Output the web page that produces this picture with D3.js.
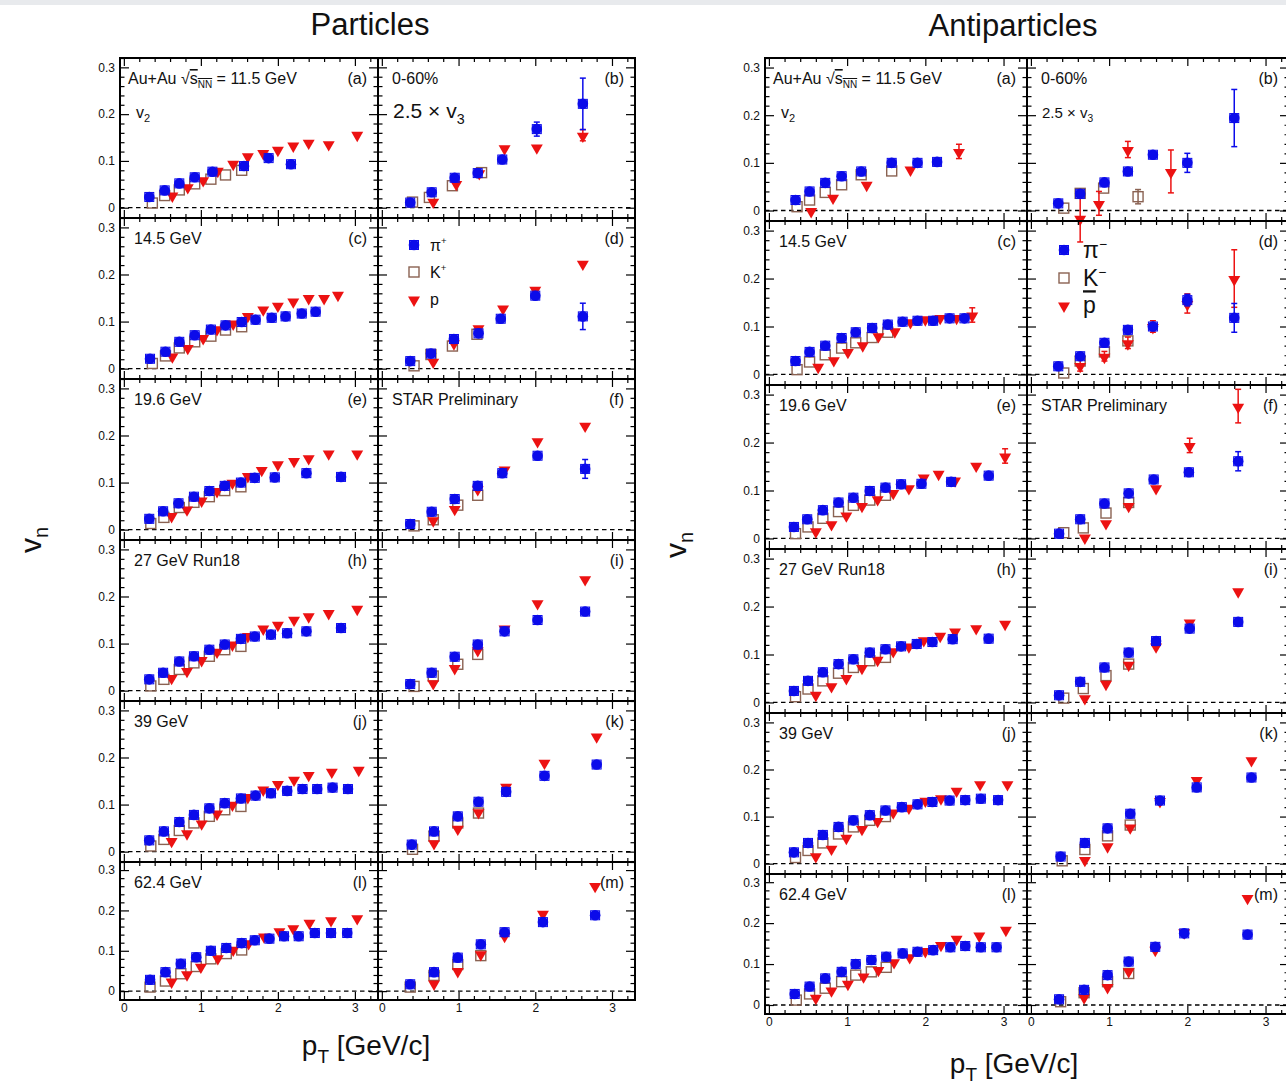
<!DOCTYPE html>
<html><head><meta charset="utf-8">
<script src="https://cdn.jsdelivr.net/npm/d3@7"></script>
<style>body{margin:0;background:#fff;overflow:hidden} text{font-family:"Liberation Sans",Arial,Helvetica,sans-serif;fill:#111}</style>
</head><body><svg id="c" width="1286" height="1085"></svg>
<script>
// ---------- tick labels / categories ----------
const yMajor = [0, 0.1, 0.2, 0.3];
const yTickLabels = ["0", "0.1", "0.2", "0.3"];
const xMajor = [0, 1, 2, 3];
const xTickLabels = ["0", "1", "2", "3"];
const energyLabels = ["11.5 GeV", "14.5 GeV", "19.6 GeV", "27 GeV Run18", "39 GeV", "62.4 GeV"];
const panelLetters = [["(a)", "(b)"], ["(c)", "(d)"], ["(e)", "(f)"], ["(h)", "(i)"], ["(j)", "(k)"], ["(l)", "(m)"]];
const figTitles = ["Particles", "Antiparticles"];

// ---------- data: [pT, value, (stat. error)] ----------
// Particles, v2
const P115_v2_pi = [[0.33,0.023],[0.53,0.037],[0.72,0.052],[0.92,0.065],[1.15,0.077],[1.56,0.089],[1.88,0.106],[2.17,0.093]];
const P115_v2_K  = [[0.37,0.010],[0.53,0.026],[0.72,0.038],[0.92,0.051],[1.13,0.061],[1.32,0.070],[1.53,0.080]];
const P115_v2_p  = [[0.63,0.027],[0.83,0.045],[1.03,0.060],[1.22,0.080],[1.42,0.095],[1.61,0.111],[1.81,0.118],[2.0,0.125],[2.2,0.134],[2.4,0.140],[2.66,0.137],[3.03,0.157]];
const P145_v2_pi = [[0.34,0.021],[0.54,0.036],[0.72,0.057],[0.92,0.071],[1.13,0.083],[1.32,0.092],[1.53,0.099],[1.71,0.104],[1.92,0.108],[2.1,0.111],[2.31,0.117],[2.49,0.121]];
const P145_v2_K  = [[0.37,0.011],[0.54,0.027],[0.72,0.044],[0.92,0.057],[1.13,0.069],[1.32,0.082],[1.53,0.089]];
const P145_v2_p  = [[0.63,0.027],[0.83,0.045],[1.03,0.066],[1.21,0.085],[1.42,0.097],[1.61,0.113],[1.81,0.127],[2.0,0.135],[2.2,0.144],[2.4,0.151],[2.6,0.151],[2.78,0.158]];
const P196_v2_pi = [[0.33,0.023],[0.51,0.039],[0.71,0.056],[0.91,0.070],[1.11,0.082],[1.31,0.093],[1.52,0.100],[1.70,0.110],[1.96,0.111],[2.37,0.120],[2.82,0.112]];
const P196_v2_K  = [[0.35,0.013],[0.52,0.026],[0.72,0.047],[0.91,0.058],[1.11,0.070],[1.31,0.083],[1.52,0.091]];
const P196_v2_p  = [[0.62,0.030],[0.82,0.044],[1.01,0.063],[1.21,0.083],[1.41,0.101],[1.61,0.115],[1.79,0.128],[2.0,0.140],[2.21,0.147],[2.4,0.153],[2.66,0.163],[3.03,0.163]];
const P27_v2_pi  = [[0.33,0.024],[0.51,0.038],[0.72,0.062],[0.91,0.073],[1.11,0.087],[1.31,0.098],[1.52,0.110],[1.70,0.115],[1.91,0.119],[2.12,0.122],[2.37,0.126],[2.82,0.133]];
const P27_v2_K   = [[0.35,0.010],[0.52,0.024],[0.72,0.045],[0.91,0.059],[1.11,0.073],[1.31,0.087],[1.52,0.094]];
const P27_v2_p   = [[0.62,0.028],[0.82,0.043],[1.01,0.066],[1.21,0.084],[1.41,0.099],[1.61,0.117],[1.81,0.133],[2.0,0.141],[2.21,0.152],[2.4,0.159],[2.66,0.166],[3.03,0.175]];
const P39_v2_pi  = [[0.33,0.024],[0.52,0.043],[0.72,0.063],[0.91,0.078],[1.11,0.092],[1.31,0.103],[1.52,0.113],[1.71,0.119],[1.91,0.124],[2.12,0.129],[2.32,0.133],[2.51,0.133],[2.71,0.136],[2.91,0.133]];
const P39_v2_K   = [[0.35,0.012],[0.52,0.026],[0.72,0.045],[0.91,0.061],[1.11,0.075],[1.31,0.089],[1.52,0.096]];
const P39_v2_p   = [[0.62,0.024],[0.82,0.040],[1.01,0.061],[1.21,0.082],[1.41,0.101],[1.61,0.117],[1.81,0.133],[2.0,0.145],[2.21,0.154],[2.4,0.164],[2.7,0.171],[3.05,0.175]];
const P624_v2_pi = [[0.34,0.028],[0.54,0.047],[0.74,0.068],[0.94,0.084],[1.13,0.100],[1.33,0.107],[1.53,0.119],[1.7,0.126],[1.89,0.130],[2.08,0.136],[2.27,0.136],[2.48,0.144],[2.69,0.144],[2.9,0.144]];
const P624_v2_K  = [[0.34,0.010],[0.54,0.025],[0.74,0.043],[0.94,0.061],[1.13,0.080],[1.33,0.093],[1.53,0.102]];
const P624_v2_p  = [[0.62,0.025],[0.82,0.043],[1.0,0.062],[1.22,0.083],[1.42,0.104],[1.62,0.120],[1.82,0.137],[2.02,0.150],[2.2,0.157],[2.41,0.171],[2.69,0.177],[3.03,0.182]];
// Particles, 2.5 x v3
const P115_v3_pi = [[0.37,0.011],[0.65,0.033],[0.95,0.064],[1.25,0.074],[1.57,0.103],[2.02,0.168,0.015],[2.62,0.222,0.055]];
const P115_v3_K  = [[0.40,0.012],[0.62,0.022],[0.92,0.047],[1.30,0.075]];
const P115_v3_p  = [[0.67,0.014],[0.97,0.052],[1.27,0.075],[1.6,0.128],[2.02,0.130],[2.62,0.155,0.012]];
const P145_v3_pi = [[0.37,0.016],[0.64,0.032],[0.94,0.063],[1.26,0.075],[1.55,0.106],[2.0,0.155],[2.62,0.111,0.028]];
const P145_v3_K  = [[0.42,0.006],[0.64,0.030],[0.92,0.048],[1.24,0.073]];
const P145_v3_p  = [[0.67,0.016],[0.94,0.055],[1.26,0.087],[1.58,0.129],[2.0,0.169],[2.62,0.224]];
const P196_v3_pi = [[0.37,0.012],[0.65,0.038],[0.95,0.065],[1.25,0.093],[1.57,0.120],[2.03,0.157],[2.65,0.129,0.02]];
const P196_v3_K  = [[0.42,0.008],[0.67,0.021],[0.99,0.052],[1.25,0.073]];
const P196_v3_p  = [[0.67,0.021],[0.95,0.045],[1.25,0.087],[1.6,0.129],[2.03,0.189],[2.65,0.222]];
const P27_v3_pi  = [[0.37,0.014],[0.65,0.038],[0.95,0.072],[1.25,0.098],[1.6,0.126],[2.03,0.150],[2.65,0.168]];
const P27_v3_K   = [[0.42,0.009],[0.67,0.031],[0.99,0.056],[1.25,0.077]];
const P27_v3_p   = [[0.67,0.017],[0.95,0.049],[1.25,0.087],[1.6,0.133],[2.03,0.187],[2.65,0.238]];
const P39_v3_pi  = [[0.39,0.015],[0.68,0.043],[0.99,0.075],[1.26,0.106],[1.62,0.127],[2.12,0.161],[2.8,0.185]];
const P39_v3_K   = [[0.40,0.005],[0.68,0.033],[0.99,0.061],[1.26,0.082]];
const P39_v3_p   = [[0.68,0.019],[0.99,0.050],[1.26,0.085],[1.62,0.139],[2.12,0.190],[2.8,0.246]];
const P624_v3_pi = [[0.37,0.017],[0.68,0.047],[0.99,0.083],[1.29,0.116],[1.6,0.146],[2.1,0.171],[2.78,0.188]];
const P624_v3_K  = [[0.37,0.010],[0.68,0.039],[0.99,0.066],[1.29,0.088]];
const P624_v3_p  = [[0.68,0.020],[0.99,0.051],[1.29,0.093],[1.6,0.138],[2.1,0.193],[2.78,0.262]];
// Antiparticles, v2
const A115_v2_pi = [[0.34,0.022],[0.52,0.040],[0.72,0.058],[0.93,0.072],[1.18,0.082],[1.57,0.100],[1.9,0.100],[2.15,0.102]];
const A115_v2_K  = [[0.36,0.008],[0.52,0.022],[0.72,0.038],[0.93,0.054],[1.18,0.075],[1.57,0.083]];
const A115_v2_p  = [[0.54,0.000],[0.82,0.028],[1.25,0.055],[1.81,0.087],[2.43,0.124,0.015]];
const A145_v2_pi = [[0.34,0.028],[0.52,0.047],[0.72,0.060],[0.93,0.076],[1.11,0.088],[1.32,0.097],[1.52,0.104],[1.71,0.110],[1.9,0.112],[2.1,0.112],[2.31,0.117],[2.5,0.117]];
const A145_v2_K  = [[0.36,0.010],[0.52,0.026],[0.72,0.041],[0.93,0.055],[1.11,0.066],[1.32,0.077],[1.52,0.088]];
const A145_v2_p  = [[0.63,0.017],[0.83,0.031],[1.01,0.048],[1.2,0.062],[1.4,0.081],[1.61,0.091],[1.81,0.110],[2.0,0.116],[2.19,0.119],[2.4,0.119],[2.6,0.124,0.015]];
const A196_v2_pi = [[0.32,0.024],[0.49,0.040],[0.69,0.059],[0.89,0.075],[1.08,0.085],[1.29,0.099],[1.49,0.106],[1.69,0.113],[1.95,0.114],[2.33,0.118],[2.81,0.131]];
const A196_v2_K  = [[0.34,0.010],[0.50,0.024],[0.69,0.042],[0.89,0.056],[1.08,0.069],[1.29,0.080],[1.49,0.090]];
const A196_v2_p  = [[0.6,0.016],[0.8,0.031],[0.99,0.049],[1.19,0.069],[1.39,0.083],[1.59,0.096],[1.79,0.106],[1.98,0.128],[2.17,0.136],[2.38,0.122],[2.65,0.153],[3.02,0.172,0.015]];
const A27_v2_pi  = [[0.32,0.024],[0.5,0.045],[0.69,0.063],[0.89,0.080],[1.08,0.090],[1.29,0.104],[1.49,0.111],[1.69,0.117],[1.89,0.122],[2.09,0.126],[2.35,0.132],[2.81,0.133]];
const A27_v2_K   = [[0.34,0.012],[0.50,0.028],[0.69,0.045],[0.89,0.061],[1.08,0.073],[1.29,0.087],[1.49,0.094]];
const A27_v2_p   = [[0.6,0.017],[0.8,0.035],[0.99,0.052],[1.19,0.073],[1.39,0.090],[1.59,0.108],[1.79,0.118],[1.98,0.131],[2.19,0.140],[2.38,0.149],[2.65,0.156],[3.02,0.165]];
const A39_v2_pi  = [[0.32,0.024],[0.5,0.044],[0.69,0.061],[0.89,0.078],[1.08,0.092],[1.29,0.103],[1.49,0.113],[1.7,0.120],[1.9,0.126],[2.09,0.131],[2.31,0.134],[2.51,0.135],[2.71,0.138],[2.93,0.135]];
const A39_v2_K   = [[0.34,0.013],[0.50,0.028],[0.69,0.044],[0.89,0.063],[1.08,0.078],[1.29,0.092],[1.49,0.100]];
const A39_v2_p   = [[0.6,0.017],[0.8,0.033],[0.99,0.056],[1.19,0.075],[1.39,0.092],[1.59,0.110],[1.79,0.120],[2.0,0.135],[2.2,0.140],[2.4,0.156],[2.7,0.170],[3.05,0.170]];
const A624_v2_pi = [[0.33,0.027],[0.52,0.045],[0.72,0.065],[0.93,0.081],[1.11,0.100],[1.31,0.110],[1.5,0.118],[1.71,0.126],[1.9,0.130],[2.1,0.134],[2.32,0.141],[2.51,0.144],[2.71,0.141],[2.91,0.141]];
const A624_v2_K  = [[0.35,0.012],[0.52,0.027],[0.72,0.041],[0.93,0.057],[1.11,0.073],[1.31,0.081],[1.5,0.092]];
const A624_v2_p  = [[0.6,0.019],[0.8,0.037],[1.01,0.053],[1.21,0.071],[1.4,0.087],[1.6,0.106],[1.8,0.118],[2.0,0.133],[2.2,0.148],[2.4,0.163],[2.69,0.171],[3.03,0.185]];
// Antiparticles, 2.5 x v3
const A115_v3_pi = [[0.35,0.015],[0.63,0.035],[0.94,0.059],[1.24,0.082],[1.56,0.117],[2.0,0.100,0.02],[2.6,0.194,0.06]];
const A115_v3_K  = [[0.42,0.005],[0.63,0.036],[0.93,0.047],[1.37,0.029,0.015]];
const A115_v3_p  = [[0.63,-0.016,0.05],[0.87,0.015,0.025],[1.24,0.128,0.017],[1.79,0.082,0.045]];
const A145_v3_pi = [[0.35,0.017],[0.63,0.038],[0.94,0.066],[1.24,0.093],[1.56,0.100],[2.0,0.155,0.012],[2.6,0.118,0.03]];
const A145_v3_K  = [[0.42,0.003],[0.63,0.028],[0.94,0.047],[1.24,0.070]];
const A145_v3_p  = [[0.63,0.019,0.012],[0.94,0.038,0.01],[1.24,0.066,0.012],[1.56,0.100,0.012],[2.0,0.148,0.02],[2.6,0.200,0.06]];
const A196_v3_pi = [[0.36,0.010],[0.63,0.040],[0.94,0.073],[1.25,0.094],[1.57,0.123],[2.02,0.138],[2.65,0.161,0.02]];
const A196_v3_K  = [[0.42,0.012],[0.67,0.022],[0.96,0.053],[1.25,0.075]];
const A196_v3_p  = [[0.69,0.003],[0.96,0.033],[1.25,0.069],[1.6,0.106],[2.03,0.194,0.015],[2.65,0.276,0.035]];
const A27_v3_pi  = [[0.36,0.015],[0.63,0.043],[0.94,0.073],[1.25,0.104],[1.6,0.128],[2.03,0.154],[2.65,0.168]];
const A27_v3_K   = [[0.42,0.009],[0.67,0.029],[0.96,0.056],[1.25,0.080]];
const A27_v3_p   = [[0.69,0.010],[0.96,0.040],[1.25,0.080],[1.6,0.118],[2.03,0.168],[2.65,0.233]];
const A39_v3_pi  = [[0.38,0.015],[0.69,0.044],[0.98,0.075],[1.27,0.106],[1.65,0.134],[2.12,0.162],[2.82,0.183]];
const A39_v3_K   = [[0.40,0.006],[0.69,0.030],[0.98,0.059],[1.27,0.082]];
const A39_v3_p   = [[0.69,0.009],[0.98,0.038],[1.27,0.078],[1.65,0.134],[2.12,0.179],[2.82,0.221]];
const A624_v3_pi = [[0.36,0.014],[0.68,0.037],[0.98,0.073],[1.25,0.106],[1.59,0.142],[1.96,0.175],[2.77,0.172]];
const A624_v3_K  = [[0.38,0.008],[0.68,0.030],[0.98,0.057],[1.25,0.077]];
const A624_v3_p  = [[0.68,0.020],[0.98,0.045],[1.25,0.084],[1.59,0.136],[1.96,0.179],[2.77,0.263]];

// ---------- tables built from the arrays ----------
const particleRows = [
  [[P115_v2_pi,P115_v2_K,P115_v2_p],[P115_v3_pi,P115_v3_K,P115_v3_p]],
  [[P145_v2_pi,P145_v2_K,P145_v2_p],[P145_v3_pi,P145_v3_K,P145_v3_p]],
  [[P196_v2_pi,P196_v2_K,P196_v2_p],[P196_v3_pi,P196_v3_K,P196_v3_p]],
  [[P27_v2_pi,P27_v2_K,P27_v2_p],[P27_v3_pi,P27_v3_K,P27_v3_p]],
  [[P39_v2_pi,P39_v2_K,P39_v2_p],[P39_v3_pi,P39_v3_K,P39_v3_p]],
  [[P624_v2_pi,P624_v2_K,P624_v2_p],[P624_v3_pi,P624_v3_K,P624_v3_p]]];
const antiRows = [
  [[A115_v2_pi,A115_v2_K,A115_v2_p],[A115_v3_pi,A115_v3_K,A115_v3_p]],
  [[A145_v2_pi,A145_v2_K,A145_v2_p],[A145_v3_pi,A145_v3_K,A145_v3_p]],
  [[A196_v2_pi,A196_v2_K,A196_v2_p],[A196_v3_pi,A196_v3_K,A196_v3_p]],
  [[A27_v2_pi,A27_v2_K,A27_v2_p],[A27_v3_pi,A27_v3_K,A27_v3_p]],
  [[A39_v2_pi,A39_v2_K,A39_v2_p],[A39_v3_pi,A39_v3_K,A39_v3_p]],
  [[A624_v2_pi,A624_v2_K,A624_v2_p],[A624_v3_pi,A624_v3_K,A624_v3_p]]];

// ---------- layout / style ----------
const COL = {pi:"#0b0bea", K:"#8a6252", p:"#ec1212"};
const xDomain = [-0.05, 3.3], yDomain = [-0.022, 0.32];
const xMinor = d3.range(0, 17).map(i => i * 0.2).filter((d, i) => i % 5 !== 0);
const yMinor = d3.range(-1, 17).map(i => i * 0.02).filter((d, i) => (i - 1) % 5 !== 0);

const figs = [
  {rows: particleRows, cols: [[120,378],[378,635]], ry: [58,218,379,540,701,862,1000],
   titleX: 370, titleY: 35, vnX: 41, vnY: 540, ptX: 366, ptY: 1055, sign: "+", anti: false,
   v3Size: 21, legSize: 16, legDX: 36, legTX: 52, legY: [27,54,81]},
  {rows: antiRows, cols: [[765,1027],[1027,1289]], ry: [58,221,385,549,713,874,1014],
   titleX: 1013, titleY: 36, vnX: 686, vnY: 545, ptX: 1014, ptY: 1073, sign: "−", anti: true,
   v3Size: 15, legSize: 23, legDX: 37, legTX: 56, legY: [29,57,84]}
];

const svg = d3.select("#c");
svg.append("rect").attr("width",1286).attr("height",1085).attr("fill","#fff");
svg.append("rect").attr("width",1286).attr("height",5).attr("fill","#e8eaed");

function styleAxis(sel) {
  sel.select(".domain").remove();
  sel.selectAll(".tick line").attr("stroke","#000").attr("stroke-width",1.2);
  sel.selectAll(".tick text").attr("font-size",12).attr("fill","#222")
     .attr("font-family","'Liberation Sans',Arial,sans-serif");
}

function drawMarkers(g, x, y, pts, kind) {
  const eb = pts.filter(d => d.length > 2);
  const col = COL[kind];
  g.selectAll(null).data(eb).join("line")
    .attr("x1", d => x(d[0])).attr("x2", d => x(d[0]))
    .attr("y1", d => y(d[1] - d[2])).attr("y2", d => y(d[1] + d[2]))
    .attr("stroke", col).attr("stroke-width", 1.5);
  [-1, 1].forEach(s => g.selectAll(null).data(eb).join("line")
    .attr("x1", d => x(d[0]) - 3).attr("x2", d => x(d[0]) + 3)
    .attr("y1", d => y(d[1] + s * d[2])).attr("y2", d => y(d[1] + s * d[2]))
    .attr("stroke", col).attr("stroke-width", 1.5));
  if (kind === "pi") {
    g.selectAll(null).data(pts).join("rect")
      .attr("x", d => x(d[0]) - 4.5).attr("y", d => y(d[1]) - 4.5).attr("width", 9).attr("height", 9)
      .attr("fill", "none").attr("stroke", col).attr("stroke-width", 1);
    g.selectAll(null).data(pts).join("circle")
      .attr("cx", d => x(d[0])).attr("cy", d => y(d[1])).attr("r", 5.3).attr("fill", col);
  } else if (kind === "K") {
    g.selectAll(null).data(pts).join("rect")
      .attr("x", d => x(d[0]) - 5).attr("y", d => y(d[1]) - 5).attr("width", 10).attr("height", 10)
      .attr("fill", "none").attr("stroke", col).attr("stroke-width", 1.4);
  } else {
    const tri = d3.symbol(d3.symbolTriangle, 62)();
    g.selectAll(null).data(pts).join("path").attr("d", tri)
      .attr("transform", d => `translate(${x(d[0])},${y(d[1]) + 1}) rotate(180)`)
      .attr("fill", col);
  }
}

function legendMarker(g, cx, cy, kind) {
  const x = d3.scaleLinear().domain([0,1]).range([cx, cx + 1]);
  const y = d3.scaleLinear().domain([0,1]).range([cy, cy - 1]);
  drawMarkers(g, x, y, [[0,0]], kind);
}

figs.forEach((F, fi) => {
  svg.append("text").attr("x", F.titleX).attr("y", F.titleY).attr("text-anchor","middle")
    .attr("font-size", 31).text(figTitles[fi]);
  const vn = svg.append("text").attr("transform", `translate(${F.vnX},${F.vnY}) rotate(-90)`)
    .attr("text-anchor","middle").attr("font-size", 30);
  vn.append("tspan").text("v");
  vn.append("tspan").attr("dy", 7).attr("font-size", 20).text("n");
  const pt = svg.append("text").attr("x", F.ptX).attr("y", F.ptY).attr("text-anchor","middle").attr("font-size", 28);
  pt.append("tspan").text("p");
  pt.append("tspan").attr("dy", 8).attr("font-size", 19).text("T");
  pt.append("tspan").attr("dy", -8).text(" [GeV/c]");

  F.rows.forEach((row, ri) => {
    const y0 = F.ry[ri], y1 = F.ry[ri + 1];
    row.forEach((series, ci) => {
      const [x0, x1] = F.cols[ci];
      const g = svg.append("g");
      const x = d3.scaleLinear().domain(xDomain).range([x0, x1]);
      const y = d3.scaleLinear().domain(yDomain).range([y1, y0]);
      const lastRow = ri === F.rows.length - 1;

      g.append("line").attr("x1", x0).attr("x2", x1).attr("y1", y(0)).attr("y2", y(0))
        .attr("stroke","#000").attr("stroke-width",1.3).attr("stroke-dasharray","4.5,3.5");

      const yl = g.append("g").attr("transform",`translate(${x0},0)`)
        .call(d3.axisLeft(y).tickValues(yMajor).tickSize(-9).tickPadding(5)
          .tickFormat((d, i) => ci === 0 ? yTickLabels[i] : ""));
      styleAxis(yl);
      styleAxis(g.append("g").attr("transform",`translate(${x0},0)`)
        .call(d3.axisLeft(y).tickValues(yMinor).tickSize(-4.5).tickFormat(() => "")));
      styleAxis(g.append("g").attr("transform",`translate(${x1},0)`)
        .call(d3.axisRight(y).tickValues(yMajor).tickSize(-9).tickFormat(() => "")));
      styleAxis(g.append("g").attr("transform",`translate(${x1},0)`)
        .call(d3.axisRight(y).tickValues(yMinor).tickSize(-4.5).tickFormat(() => "")));
      const xb = g.append("g").attr("transform",`translate(0,${y1})`)
        .call(d3.axisBottom(x).tickValues(xMajor).tickSize(-8).tickPadding(3)
          .tickFormat((d, i) => lastRow ? xTickLabels[i] : ""));
      styleAxis(xb);
      styleAxis(g.append("g").attr("transform",`translate(0,${y1})`)
        .call(d3.axisBottom(x).tickValues(xMinor).tickSize(-4).tickFormat(() => "")));
      styleAxis(g.append("g").attr("transform",`translate(0,${y0})`)
        .call(d3.axisTop(x).tickValues(xMajor).tickSize(-8).tickFormat(() => "")));
      styleAxis(g.append("g").attr("transform",`translate(0,${y0})`)
        .call(d3.axisTop(x).tickValues(xMinor).tickSize(-4).tickFormat(() => "")));

      drawMarkers(g, x, y, series[1], "K");
      drawMarkers(g, x, y, series[2], "p");
      drawMarkers(g, x, y, series[0], "pi");

      g.append("rect").attr("x", x0).attr("y", y0).attr("width", x1 - x0).attr("height", y1 - y0)
        .attr("fill","none").attr("stroke","#000").attr("stroke-width",2);

      g.append("text").attr("x", x1 - 11).attr("y", y0 + 26).attr("text-anchor","end")
        .attr("font-size", 16).text(panelLetters[ri][ci]);

      if (ci === 0) {
        if (ri === 0) {
          const t = g.append("text").attr("x", x0 + 8).attr("y", y0 + 26).attr("font-size", 16);
          t.append("tspan").text("Au+Au ");
          t.append("tspan").text("√");
          t.append("tspan").style("text-decoration","overline").text("s");
          t.append("tspan").attr("dy", 4).attr("font-size", 10).style("text-decoration","overline").text("NN");
          t.append("tspan").attr("dy", -4).text(" = " + energyLabels[0]);
          const v2 = g.append("text").attr("x", x0 + 16).attr("y", y0 + 60).attr("font-size", 16);
          v2.append("tspan").text("v");
          v2.append("tspan").attr("dy", 4).attr("font-size", 11).text("2");
        } else {
          g.append("text").attr("x", x0 + 14).attr("y", y0 + 26).attr("font-size", 16).text(energyLabels[ri]);
        }
      } else {
        if (ri === 0) {
          g.append("text").attr("x", x0 + 14).attr("y", y0 + 26).attr("font-size", 16).text("0-60%");
          const v3 = g.append("text").attr("x", x0 + 15).attr("y", y0 + 60).attr("font-size", F.v3Size);
          v3.append("tspan").text("2.5 × v");
          v3.append("tspan").attr("dy", F.v3Size * 0.28).attr("font-size", F.v3Size * 0.68).text("3");
        } else if (ri === 1) {
          const names = [["π", F.sign], ["K", F.sign], ["p", ""]];
          ["pi","K","p"].forEach((k, j) => {
            const cy = y0 + F.legY[j];
            legendMarker(g, x0 + F.legDX, cy, k);
            const t = g.append("text").attr("x", x0 + F.legTX).attr("y", cy + F.legSize * 0.36)
              .attr("font-size", F.legSize);
            const base = t.append("tspan").text(names[j][0]);
            if (F.anti && k === "p") base.style("text-decoration","overline");
            if (names[j][1]) t.append("tspan").attr("dy", -F.legSize * 0.4)
              .attr("font-size", F.legSize * 0.6).text(names[j][1]);
          });
        } else if (ri === 2) {
          g.append("text").attr("x", x0 + 14).attr("y", y0 + 26).attr("font-size", 16).text("STAR Preliminary");
        }
      }
    });
  });
});
</script></body></html>
